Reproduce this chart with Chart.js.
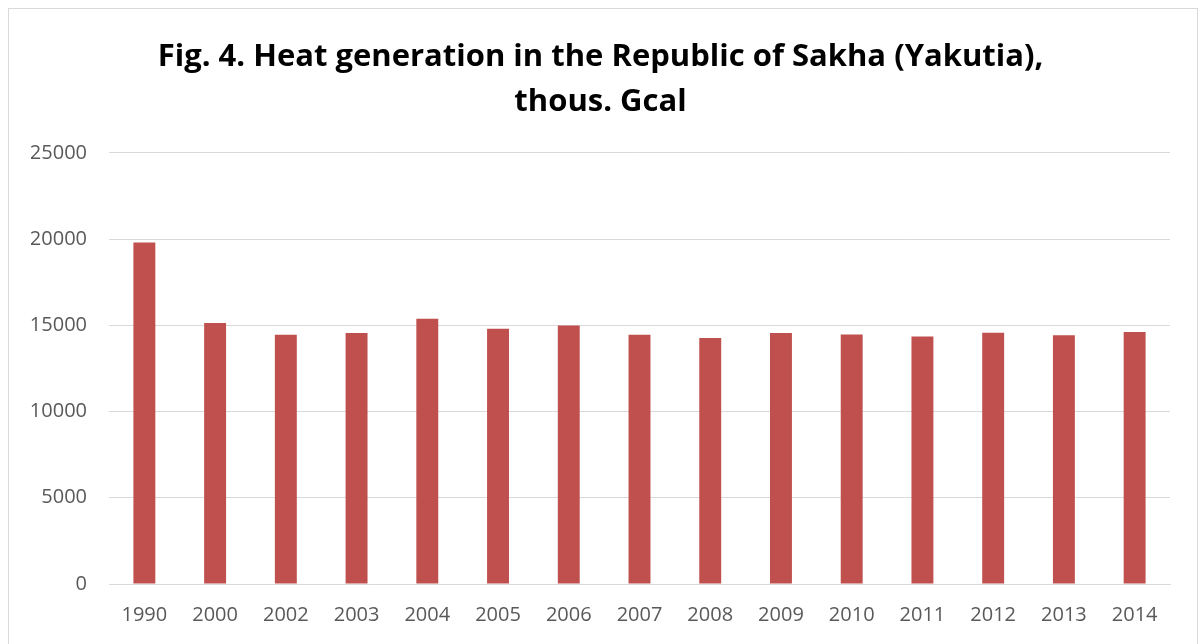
<!DOCTYPE html>
<html>
<head>
<meta charset="utf-8">
<script src="https://cdn.jsdelivr.net/npm/chart.js@4"></script>
<style>
    body { margin: 0; background: #fff; }
    #box {
        position: absolute; left: 8px; top: 8px;
        width: 1188px; height: 650px;
        border: 1px solid #d9d9d9; background: #fff;
    }
</style>
</head>
<body>
<div id="box"><canvas id="chart"></canvas></div>
<script>
const years = ['1990', '2000', '2002', '2003', '2004', '2005', '2006', '2007',
               '2008', '2009', '2010', '2011', '2012', '2013', '2014']
const heat = [19800, 15130, 14450, 14550, 15380, 14800, 14990, 14450,
              14260, 14550, 14470, 14350, 14570, 14430, 14610]
const titleLines = ['Fig. 4. Heat generation in the Republic of Sakha (Yakutia),', 'thous. Gcal']

const font = "'Open Sans', 'Liberation Sans', sans-serif"

new Chart(document.getElementById('chart'), {
    type: 'bar',
    data: {
        labels: years,
        datasets: [{
            data: heat,
            backgroundColor: '#c0504d',
            borderWidth: 0,
            barPercentage: 0.62,
            categoryPercentage: 0.5
        }]
    },
    options: {
        responsive: true,
        maintainAspectRatio: false,
        animation: false,
        layout: { padding: { left: 22, right: 27, top: 26, bottom: 13 } },
        plugins: {
            legend: { display: false },
            tooltip: { enabled: false },
            title: {
                display: true,
                text: titleLines,
                color: '#000',
                font: { family: font, size: 31, weight: 'bold', lineHeight: 1.45 },
                padding: { top: 0, bottom: 28 }
            }
        },
        scales: {
            x: {
                grid: { display: false, drawTicks: false },
                border: { display: true, color: '#d9d9d9', width: 1 },
                ticks: { color: '#595959', font: { family: font, size: 20 }, padding: 19, maxRotation: 0 }
            },
            y: {
                min: 0,
                max: 25000,
                afterFit: (scale) => { scale.width = 78 },
                grid: { color: '#d9d9d9', lineWidth: 1, drawTicks: false },
                border: { display: false },
                ticks: {
                    stepSize: 5000,
                    color: '#595959',
                    font: { family: font, size: 20 },
                    padding: 22,
                    callback: (v) => String(v)
                }
            }
        }
    }
})
</script>
</body>
</html>
